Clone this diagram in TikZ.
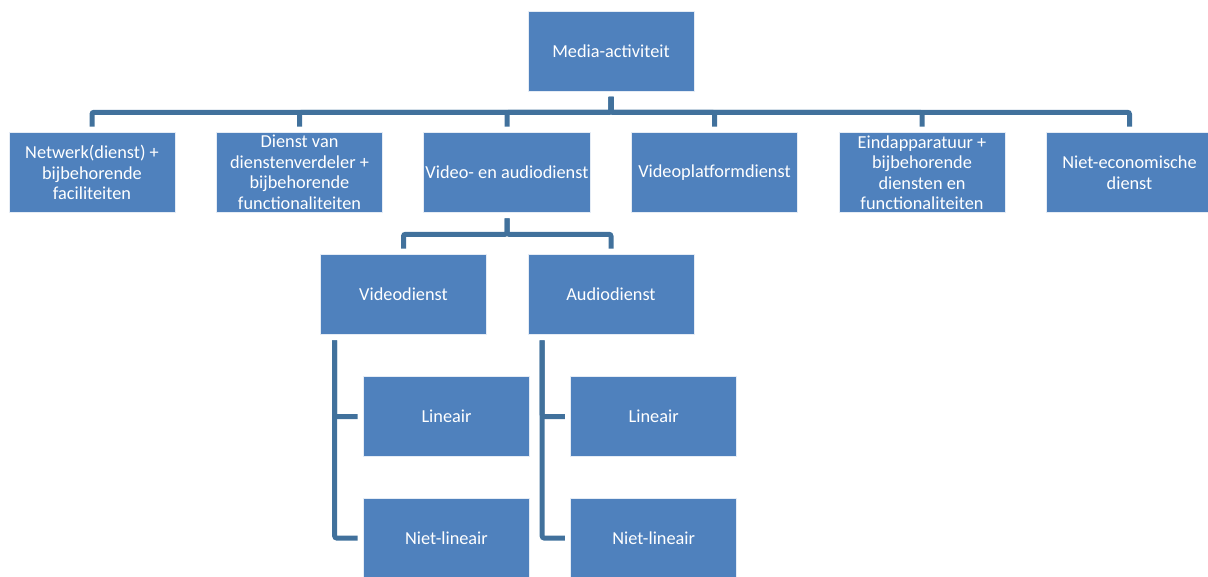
\documentclass[tikz,border=0pt]{standalone}
\usepackage{fontspec}
\setmainfont{Carlito}
\usetikzlibrary{calc}
\definecolor{boxblue}{HTML}{4F81BD}
\definecolor{lineblue}{HTML}{41719C}
\begin{document}
\begin{tikzpicture}[x=1pt,y=-1pt,
  box/.style={rectangle, fill=boxblue, draw=white!85!boxblue, line width=0.6pt,
    minimum width=166pt, minimum height=80pt, inner sep=2pt, text=white,
    align=center, font=\fontsize{18.3}{20.5}\selectfont},
  conn/.style={draw=lineblue, line width=5pt, rounded corners=2pt}]
\useasboundingbox (0,0) rectangle (1208,576);
\clip (0,0) rectangle (1208,576);

\node[box] (top) at (611,51) {Media-activiteit};

\node[box] (n1) at (92,172.5)   {Netwerk(dienst) +\\bijbehorende\\faciliteiten};
\node[box] (n2) at (299.5,172.5) {Dienst van\\dienstenverdeler +\\bijbehorende\\functionaliteiten};
\node[box] (n3) at (507,172.5)  {Video- en audiodienst};
\node[box] (n4) at (714.5,172.5) {Videoplatformdienst};
\node[box] (n5) at (922,172.5)  {Eindapparatuur +\\bijbehorende\\diensten en\\functionaliteiten};
\node[box] (n6) at (1129.5,172.5) {Niet-economische\\dienst};

\node[box] (vd) at (403.5,294.5) {Videodienst};
\node[box] (ad) at (611,294.5)   {Audiodienst};

\node[box] (vl) at (446.5,416.5) {Lineair};
\node[box] (vn) at (446.5,538)   {Niet-lineair};
\node[box] (al) at (653.7,416.5) {Lineair};
\node[box] (an) at (653.7,538)   {Niet-lineair};

\foreach \c in {n1,n2,n3,n4,n5,n6}
  \path[conn] ($(top.south)+(0,5.5)$) -- ++(0,15.5) -| ($(\c.north)+(0,-5.5)$);

\foreach \c in {vd,ad}
  \path[conn] ($(n3.south)+(0,5.5)$) -- ++(0,16) -| ($(\c.north)+(0,-5.5)$);

\foreach \p/\c in {vd/vl,vd/vn,ad/al,ad/an}
  \path[conn] ($(\p.south west)+(14.5,5.5)$) |- ($(\c.west)+(-5.5,0)$);
\end{tikzpicture}
\end{document}
